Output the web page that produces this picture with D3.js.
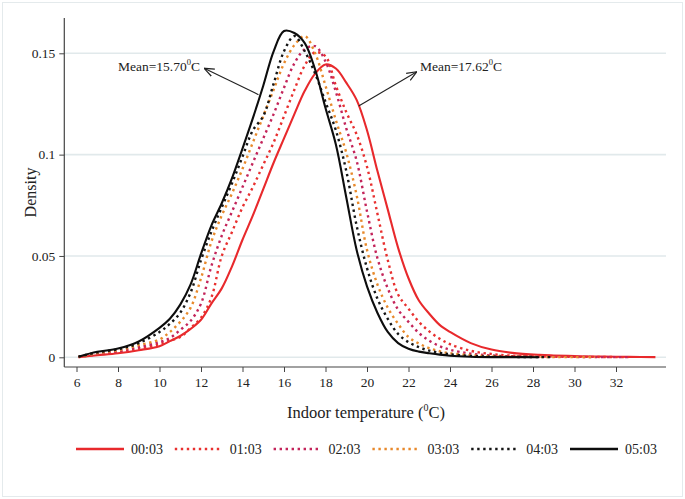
<!DOCTYPE html>
<html>
<head>
<meta charset="utf-8">
<script src="https://cdn.jsdelivr.net/npm/d3@7"></script>
<style>
  html, body { margin: 0; padding: 0; background: #fff; }
  svg { display: block; font-family: "Liberation Serif", "Times New Roman", serif; }
</style>
</head>
<body>
<svg id="chart" width="685" height="499"></svg>
<script>
// ---------------- DATA ----------------
const temps = [6.1, 7, 8, 9, 10, 10.5, 11, 11.5, 12, 12.5, 13, 13.5, 14, 14.5, 15, 15.5, 16, 16.5, 17, 17.5,
  18, 18.5, 19, 19.5, 20, 20.5, 21, 21.5, 22, 22.5, 23, 23.5, 24, 25, 26, 27, 28.3, 29, 30, 31, 32, 32.6, 33.9];

const seriesNames = ["00:03", "01:03", "02:03", "03:03", "04:03", "05:03"];

const d0003 = [0.0001, 0.001, 0.002, 0.0035, 0.0055, 0.008, 0.0105, 0.014, 0.0185, 0.0265, 0.034, 0.045, 0.058, 0.070, 0.083, 0.096, 0.108, 0.120, 0.1315, 0.140,
  0.1445, 0.1425, 0.1355, 0.127, 0.112, 0.092, 0.073, 0.054, 0.039, 0.028, 0.0215, 0.016, 0.0125, 0.007, 0.0038, 0.0022, 0.0012, 0.0009, 0.0006, 0.0004, 0.0003, 0.0002, 0.0001];
const d0103 = [0.0001, 0.0014, 0.0025, 0.0042, 0.0065, 0.0082, 0.010, 0.0145, 0.0195, 0.0295, 0.050, 0.062, 0.074, 0.084, 0.095, 0.106, 0.119, 0.132, 0.144, 0.1505,
  0.1485, 0.134, 0.121, 0.110, 0.094, 0.071, 0.048, 0.031, 0.024, 0.0175, 0.0128, 0.0092, 0.0065, 0.0032, 0.0016, 0.0008, 0.0004, 0.0003, 0.0002, 0.0002, 0.0001, 0.0001, null];
const d0203 = [0.0002, 0.0017, 0.003, 0.005, 0.0075, 0.0095, 0.0135, 0.018, 0.0265, 0.045, 0.060, 0.072, 0.084, 0.096, 0.108, 0.120, 0.133, 0.145, 0.152, 0.1535,
  0.146, 0.131, 0.113, 0.097, 0.072, 0.049, 0.034, 0.0235, 0.0175, 0.012, 0.0082, 0.0055, 0.0037, 0.0018, 0.0009, 0.0005, 0.0003, 0.0002, 0.0002, 0.0001, 0.0001, 0.0001, null];
const d0303 = [0.0002, 0.002, 0.0035, 0.006, 0.0088, 0.0125, 0.0175, 0.0245, 0.039, 0.057, 0.070, 0.081, 0.093, 0.106, 0.119, 0.132, 0.145, 0.154, 0.1585, 0.150,
  0.134, 0.117, 0.101, 0.080, 0.053, 0.036, 0.0245, 0.0165, 0.010, 0.0068, 0.0045, 0.003, 0.002, 0.001, 0.0005, 0.0003, 0.0002, 0.0001, 0.0001, 0.0001, null, null, null];
const d0403 = [0.0003, 0.0024, 0.004, 0.007, 0.0125, 0.0165, 0.022, 0.032, 0.048, 0.062, 0.074, 0.086, 0.099, 0.112, 0.119, 0.135, 0.151, 0.1585, 0.151, 0.140,
  0.126, 0.112, 0.092, 0.065, 0.044, 0.029, 0.019, 0.0115, 0.0075, 0.005, 0.0033, 0.0022, 0.0015, 0.0007, 0.0003, 0.0002, 0.0001, 0.0001, null, null, null, null, null];
const d0503 = [0.0003, 0.0027, 0.0043, 0.0078, 0.0145, 0.019, 0.026, 0.036, 0.051, 0.065, 0.076, 0.0885, 0.103, 0.118, 0.134, 0.151, 0.161, 0.160, 0.155, 0.142,
  0.123, 0.105, 0.079, 0.053, 0.035, 0.022, 0.0125, 0.007, 0.0042, 0.0028, 0.002, 0.0013, 0.0008, 0.0003, 0.0001, 0.0001, 0.0, null, null, null, null, null, null];

const xTicks = [6, 8, 10, 12, 14, 16, 18, 20, 22, 24, 26, 28, 30, 32];
const yTicks = [0, 0.05, 0.1, 0.15];
const yTickLabels = ["0", "0.05", "0.1", "0.15"];

const annotations = [
  { label: "Mean=15.70", from: [14.77, 0.1296], to: [12.15, 0.1426] },
  { label: "Mean=17.62", from: [19.6, 0.124], to: [22.4, 0.1409] }
];

// ---------------- STYLE ----------------
const seriesValues = [d0003, d0103, d0203, d0303, d0403, d0503];
const colors = ["#e8292c", "#e8302f", "#c3245a", "#e8892b", "#151515", "#0d0d0d"];
const dashes = [null, "2.4,3.6", "2.4,3.6", "2.4,3.6", "2.4,3.6", null];
const widths = [2.1, 2.4, 2.4, 2.4, 2.4, 2.1];

const svg = d3.select("#chart");
const W = 685, H = 499;

// outer faint frame
svg.append("rect").attr("x", 2.5).attr("y", 2.5).attr("width", W - 5).attr("height", H - 5)
  .attr("fill", "none").attr("stroke", "#e4eaec").attr("stroke-width", 1);

const x = d3.scaleLinear().domain([6, 32]).range([76.5, 616]);
const y = d3.scaleLinear().domain([0, 0.15]).range([357.3, 53.3]);

const plotLeft = 64.3, plotRight = 666, plotTop = 18, axisY = 367;

// gridlines
svg.append("g").selectAll("line").data(yTicks).join("line")
  .attr("x1", plotLeft).attr("x2", plotRight)
  .attr("y1", d => y(d)).attr("y2", d => y(d))
  .attr("stroke", "#e1e9eb").attr("stroke-width", 1.6);

// axes
const xAxis = d3.axisBottom(x).tickValues(xTicks).tickSize(5).tickPadding(5).tickFormat(d3.format("d"));
const gx = svg.append("g").attr("transform", `translate(0,${axisY})`).call(xAxis);
gx.select(".domain").remove();
gx.selectAll(".tick line").attr("stroke", "#444");
gx.selectAll(".tick text").attr("font-family", "Liberation Serif, serif").attr("font-size", 13.5).attr("fill", "#222");

const yAxis = d3.axisLeft(y).tickValues(yTicks).tickSize(5).tickPadding(4)
  .tickFormat((d, i) => yTickLabels[i]);
const gy = svg.append("g").attr("transform", `translate(${plotLeft},0)`).call(yAxis);
gy.select(".domain").remove();
gy.selectAll(".tick line").attr("stroke", "#444");
gy.selectAll(".tick text").attr("font-family", "Liberation Serif, serif").attr("font-size", 13.5).attr("fill", "#222");

svg.append("line").attr("x1", plotLeft).attr("x2", plotLeft).attr("y1", plotTop).attr("y2", axisY)
  .attr("stroke", "#444").attr("stroke-width", 1.2);
svg.append("line").attr("x1", plotLeft).attr("x2", plotRight).attr("y1", axisY).attr("y2", axisY)
  .attr("stroke", "#444").attr("stroke-width", 1.2);

// axis titles
svg.append("text").attr("transform", `translate(35.5,${(plotTop + axisY) / 2}) rotate(-90)`)
  .attr("text-anchor", "middle").attr("font-size", 16).attr("fill", "#222").text("Density");

const xt = svg.append("text").attr("x", 366).attr("y", 418).attr("text-anchor", "middle")
  .attr("font-size", 16.5).attr("fill", "#222");
xt.append("tspan").text("Indoor temperature (");
xt.append("tspan").attr("font-size", 10).attr("dy", -7).text("0");
xt.append("tspan").attr("dy", 7).text("C)");

// curves
const line = d3.line()
  .defined(d => d[1] !== null)
  .x(d => x(d[0])).y(d => y(d[1]))
  .curve(d3.curveCatmullRom.alpha(0.5));

seriesValues.forEach((vals, i) => {
  const pts = temps.map((t, j) => [t, vals[j]]);
  svg.append("path").datum(pts)
    .attr("d", line)
    .attr("fill", "none")
    .attr("stroke", colors[i])
    .attr("stroke-width", widths[i])
    .attr("stroke-dasharray", dashes[i])
    .attr("stroke-linejoin", "round");
});

// annotations
svg.append("defs").append("marker")
  .attr("id", "arr").attr("viewBox", "0 0 10 10").attr("refX", 10).attr("refY", 5)
  .attr("markerWidth", 10).attr("markerHeight", 10).attr("markerUnits", "userSpaceOnUse")
  .attr("orient", "auto")
  .append("path").attr("d", "M0,1 L10,5 L0,9").attr("fill", "none").attr("stroke", "#222").attr("stroke-width", 1.2);

annotations.forEach((a, i) => {
  svg.append("line")
    .attr("x1", x(a.from[0])).attr("y1", y(a.from[1]))
    .attr("x2", x(a.to[0])).attr("y2", y(a.to[1]))
    .attr("stroke", "#222").attr("stroke-width", 1.1).attr("marker-end", "url(#arr)");
});

function meanLabel(a, xPos, anchor) {
  const t = svg.append("text").attr("x", xPos).attr("y", 71).attr("font-size", 13.5).attr("fill", "#222")
    .attr("text-anchor", anchor);
  t.append("tspan").text(a.label);
  t.append("tspan").attr("font-size", 8.5).attr("dy", -6).text("0");
  t.append("tspan").attr("dy", 6).text("C");
}
meanLabel(annotations[0], 118, "start");
meanLabel(annotations[1], 420, "start");

// legend
const legY = 449;
const lg = svg.append("g");
seriesNames.forEach((name, i) => {
  const x0 = 76 + i * 98.8;
  lg.append("line").attr("x1", x0).attr("x2", x0 + 48).attr("y1", legY).attr("y2", legY)
    .attr("stroke", colors[i]).attr("stroke-width", i === 0 || i === 5 ? 2.6 : 2.4)
    .attr("stroke-dasharray", dashes[i]);
  lg.append("text").attr("x", x0 + 55).attr("y", legY + 5).attr("font-size", 14).attr("fill", "#222").text(name);
});
</script>
</body>
</html>
